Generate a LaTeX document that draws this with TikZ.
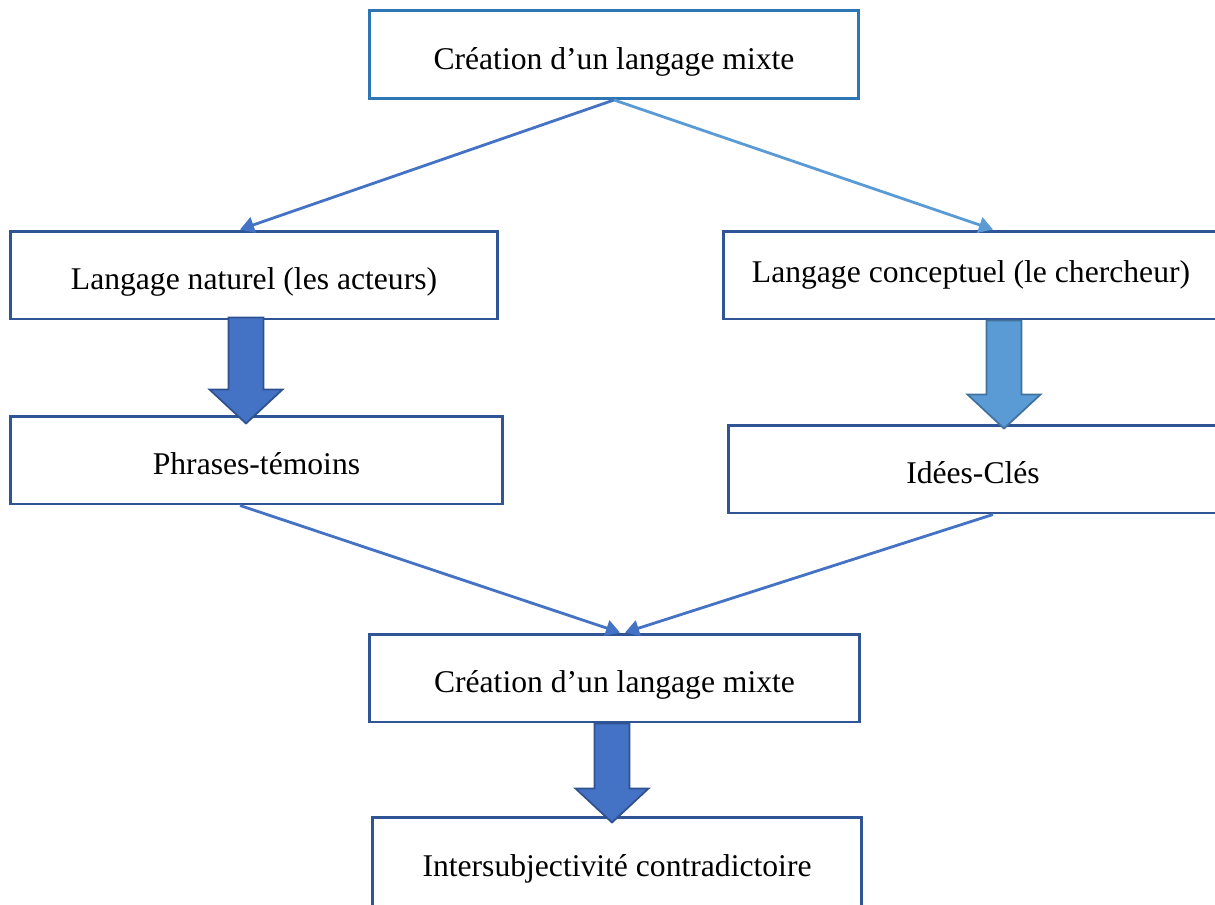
\documentclass[tikz,border=0pt]{standalone}
\usepackage{fontspec}
\setmainfont{Liberation Serif}
\usetikzlibrary{arrows.meta}

\definecolor{boxblue}{RGB}{47,85,151}
\definecolor{topblue}{RGB}{46,117,182}
\definecolor{midblue}{RGB}{68,114,196}
\definecolor{lightblue}{RGB}{91,155,213}
\definecolor{rimblue}{RGB}{47,82,143}
\definecolor{rimlight}{RGB}{65,113,156}

\tikzstyle{box} = [draw=boxblue, line width=1.7pt, minimum height=1.76cm, text centered, text height=20pt, text depth=3.5pt, font=\fontsize{18}{21}\selectfont]
\tikzstyle{link} = [line width=1.6pt, -{Triangle[length=0.28cm,width=0.32cm]}]
\tikzstyle{fat} = [fill=midblue, draw=rimblue, line width=1pt, line join=miter]
\tikzstyle{fatlight} = [fill=lightblue, draw=rimlight, line width=1pt, line join=miter]

% wide block arrow: style, start point, shaft length
\newcommand{\fatarrow}[3]{\draw[#1] (#2) ++(-17.5,0) -- ++(0,#3) -- ++(-19,0) -- ++(36.5,34) -- ++(36.5,-34) -- ++(-19,0) -- ++(0,-#3) -- cycle;}

\begin{document}
\begin{tikzpicture}[x=0.02cm, y=-0.02cm]
\clip (0,0) rectangle (1215,904);

\node[box, draw=topblue, minimum width=9.8cm] (mixte) at (614,54.5) {Création d’un langage mixte};
\node[box, minimum width=9.76cm] (naturel) at (254,275) {Langage naturel (les acteurs)};
\node[box, minimum width=9.92cm, text height=13pt, text depth=4pt] (concept) at (971,275) {Langage conceptuel (le chercheur)};
\node[box, minimum width=9.86cm] (phrases) at (256.5,460) {Phrases-témoins};
\node[box, minimum width=9.8cm] (idees) at (973,469) {Idées-Clés};
\node[box, minimum width=9.82cm] (mixtebis) at (614.5,678) {Création d’un langage mixte};
\node[box, minimum width=9.8cm, minimum height=1.8cm] (inter) at (617,862) {Intersubjectivité contradictoire};

% thin links
\draw[link, midblue] (mixte.south) -- ([xshift=-0.28cm]naturel.north);
\draw[link, lightblue] (mixte.south) -- ([xshift=0.44cm]concept.north);
\draw[link, midblue] ([xshift=-0.33cm]phrases.south) -- ([xshift=0.11cm]mixtebis.north);
\draw[link, midblue] ([xshift=0.4cm]idees.south) -- ([xshift=0.21cm]mixtebis.north);

% block arrows
\fatarrow{fat}{[xshift=-0.16cm,yshift=0.06cm]naturel.south}{72}
\fatarrow{fatlight}{[xshift=0.66cm]concept.south}{74}
\fatarrow{fat}{[xshift=-0.05cm]mixtebis.south}{65}
\end{tikzpicture}
\end{document}
